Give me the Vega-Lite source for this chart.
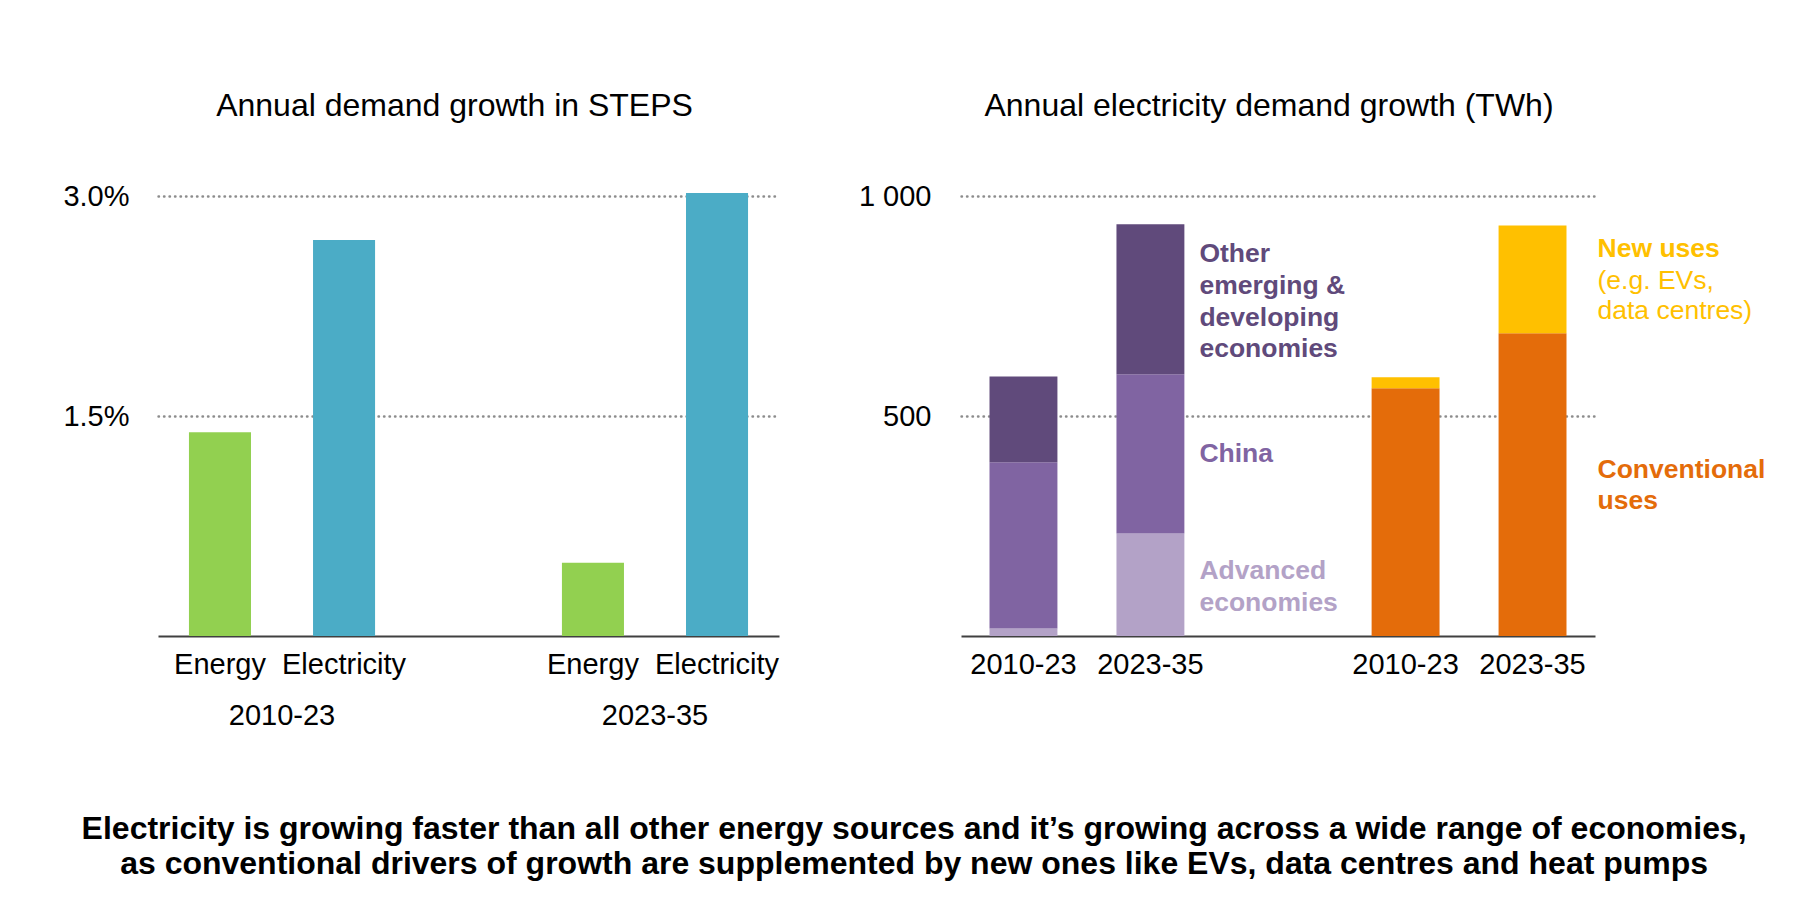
{
  "$schema": "https://vega.github.io/schema/vega-lite/v6.json",
  "background": "white",
  "padding": {"left": 62, "top": 90, "right": 10, "bottom": 10},
  "config": {
    "font": "Liberation Sans",
    "view": {"stroke": null},
    "axis": {
      "labelColor": "#000000",
      "labelFontSize": 29,
      "labelFont": "Liberation Sans",
      "ticks": false,
      "tickSize": 0,
      "gridColor": "#8c8c8c",
      "gridDash": [0.5, 5],
      "gridWidth": 2.4,
      "gridCap": "round",
      "domainColor": "#404040",
      "domainWidth": 2
    },
    "title": {"font": "Liberation Sans", "fontSize": 32, "fontWeight": "normal", "color": "#000000"}
  },
  "title": {
    "text": [
      "Electricity is growing faster than all other energy sources and it’s growing across a wide range of economies,",
      "as conventional drivers of growth are supplemented by new ones like EVs, data centres and heat pumps"
    ],
    "orient": "bottom",
    "anchor": "middle",
    "fontSize": 32,
    "fontWeight": "bold",
    "lineHeight": 35,
    "offset": 84,
    "color": "#000000"
  },
  "datasets": {
    "steps": [
      {"period": "2010-23", "type": "Energy", "growth": 0.0139},
      {"period": "2010-23", "type": "Electricity", "growth": 0.027},
      {"period": "2023-35", "type": "Energy", "growth": 0.005},
      {"period": "2023-35", "type": "Electricity", "growth": 0.0302}
    ],
    "twh": [
      {"group": "Regional", "period": "2010-23", "category": "Advanced economies", "value": 17, "label": "Advanced\neconomies", "note": ""},
      {"group": "Regional", "period": "2010-23", "category": "China", "value": 378, "label": "China", "note": ""},
      {"group": "Regional", "period": "2010-23", "category": "Other emerging & developing economies", "value": 195, "label": "Other\nemerging &\ndeveloping\neconomies", "note": ""},
      {"group": "Regional", "period": "2023-35", "category": "Advanced economies", "value": 233, "label": "Advanced\neconomies", "note": ""},
      {"group": "Regional", "period": "2023-35", "category": "China", "value": 362, "label": "China", "note": ""},
      {"group": "Regional", "period": "2023-35", "category": "Other emerging & developing economies", "value": 341, "label": "Other\nemerging &\ndeveloping\neconomies", "note": ""},
      {"group": "Uses", "period": "2010-23", "category": "Conventional uses", "value": 563, "label": "Conventional\nuses", "note": ""},
      {"group": "Uses", "period": "2010-23", "category": "New uses", "value": 25, "label": "New uses", "note": "(e.g. EVs,\ndata centres)"},
      {"group": "Uses", "period": "2023-35", "category": "Conventional uses", "value": 688, "label": "Conventional\nuses", "note": ""},
      {"group": "Uses", "period": "2023-35", "category": "New uses", "value": 245, "label": "New uses", "note": "(e.g. EVs,\ndata centres)"}
    ]
  },
  "resolve": {"scale": {"x": "independent", "y": "independent", "xOffset": "independent", "color": "independent"}},
  "bounds": "flush",
  "spacing": 182,
  "hconcat": [
    {
      "width": 621,
      "height": 440,
      "data": {"name": "steps"},
      "title": {"text": "Annual demand growth in STEPS", "frame": "group", "offset": 59, "dx": -14},
      "encoding": {
        "x": {
          "field": "period", "type": "nominal", "sort": ["2010-23", "2023-35"],
          "scale": {"paddingInner": 0.501, "paddingOuter": 0.083},
          "axis": {"title": null, "labelAngle": 0, "labelPadding": 65, "grid": false, "domain": true}
        },
        "xOffset": {
          "field": "type", "type": "nominal", "sort": ["Energy", "Electricity"],
          "scale": {"paddingInner": 0.5, "paddingOuter": 0}
        }
      },
      "layer": [
        {
          "mark": {"type": "bar"},
          "encoding": {
            "y": {
              "field": "growth", "type": "quantitative",
              "scale": {"domain": [0, 0.03], "nice": false},
              "axis": {"title": null, "values": [0.015, 0.03], "format": ".1%", "grid": true, "domain": false, "labelPadding": 29}
            },
            "color": {
              "field": "type", "type": "nominal",
              "scale": {"domain": ["Energy", "Electricity"], "range": ["#92D050", "#4BACC6"]},
              "legend": null
            }
          }
        },
        {
          "mark": {"type": "text", "baseline": "alphabetic", "dy": 38, "fontSize": 29, "color": "#000000"},
          "encoding": {
            "y": {"datum": 0, "type": "quantitative"},
            "text": {"field": "type"}
          }
        }
      ]
    },
    {
      "width": 634,
      "height": 440,
      "data": {"name": "twh"},
      "title": {"text": "Annual electricity demand growth (TWh)", "frame": "group", "offset": 59, "dx": -9},
      "encoding": {
        "x": {
          "field": "group", "type": "nominal", "sort": ["Regional", "Uses"],
          "scale": {"paddingInner": 0.49, "paddingOuter": 0.0746},
          "axis": {"title": null, "labels": false, "grid": false, "domain": true}
        },
        "xOffset": {
          "field": "period", "type": "nominal", "sort": ["2010-23", "2023-35"],
          "scale": {"paddingInner": 0.465, "paddingOuter": 0}
        }
      },
      "layer": [
        {
          "mark": {"type": "bar"},
          "encoding": {
            "y": {
              "field": "value", "type": "quantitative", "stack": "zero",
              "scale": {"domain": [0, 1000], "nice": false},
              "axis": {"title": null, "values": [500, 1000], "labelExpr": "replace(format(datum.value, ',.0f'), ',', ' ')", "grid": true, "domain": false, "labelPadding": 30}
            },
            "order": {"field": "category", "type": "ordinal", "sort": "ascending"},
            "color": {
              "field": "category", "type": "nominal",
              "scale": {
                "domain": ["Advanced economies", "China", "Other emerging & developing economies", "Conventional uses", "New uses"],
                "range": ["#B3A2C7", "#8064A2", "#604A7B", "#E46C0A", "#FFC000"]
              },
              "legend": null
            }
          }
        },
        {
          "transform": [{"aggregate": [{"op": "sum", "field": "value", "as": "total"}], "groupby": ["group", "period"]}],
          "mark": {"type": "text", "baseline": "alphabetic", "dy": 38, "fontSize": 29, "color": "#000000"},
          "encoding": {
            "y": {"datum": 0, "type": "quantitative"},
            "text": {"field": "period"}
          }
        },
        {
          "transform": [{"filter": "datum.group === 'Regional' && datum.period === '2023-35'"}],
          "mark": {"type": "text", "align": "left", "baseline": "middle", "dx": 49, "dy": -45, "fontSize": 26.5, "fontWeight": "bold", "lineBreak": "\n", "lineHeight": 31.7},
          "encoding": {
            "y": {"field": "value", "type": "quantitative", "stack": "zero", "bandPosition": 0.5},
            "order": {"field": "category", "type": "ordinal", "sort": "ascending"},
            "text": {"condition": {"test": "datum.category === 'Other emerging & developing economies'", "field": "label"}, "value": ""},
            "color": {"field": "category", "type": "nominal", "legend": null}
          }
        },
        {
          "transform": [{"filter": "datum.group === 'Regional' && datum.period === '2023-35'"}],
          "mark": {"type": "text", "align": "left", "baseline": "middle", "dx": 49, "dy": 0, "fontSize": 26.5, "fontWeight": "bold", "lineBreak": "\n", "lineHeight": 31.7},
          "encoding": {
            "y": {"field": "value", "type": "quantitative", "stack": "zero", "bandPosition": 0.5},
            "order": {"field": "category", "type": "ordinal", "sort": "ascending"},
            "text": {"condition": {"test": "datum.category === 'China'", "field": "label"}, "value": ""},
            "color": {"field": "category", "type": "nominal", "legend": null}
          }
        },
        {
          "transform": [{"filter": "datum.group === 'Regional' && datum.period === '2023-35'"}],
          "mark": {"type": "text", "align": "left", "baseline": "middle", "dx": 49, "dy": -13.5, "fontSize": 26.5, "fontWeight": "bold", "lineBreak": "\n", "lineHeight": 31.7},
          "encoding": {
            "y": {"field": "value", "type": "quantitative", "stack": "zero", "bandPosition": 0.5},
            "order": {"field": "category", "type": "ordinal", "sort": "ascending"},
            "text": {"condition": {"test": "datum.category === 'Advanced economies'", "field": "label"}, "value": ""},
            "color": {"field": "category", "type": "nominal", "legend": null}
          }
        },
        {
          "transform": [{"filter": "datum.group === 'Uses' && datum.period === '2023-35'"}],
          "mark": {"type": "text", "align": "left", "baseline": "middle", "dx": 65, "dy": -14.3, "fontSize": 26.5, "fontWeight": "bold", "lineBreak": "\n", "lineHeight": 31},
          "encoding": {
            "y": {"field": "value", "type": "quantitative", "stack": "zero", "bandPosition": 0.5},
            "order": {"field": "category", "type": "ordinal", "sort": "ascending"},
            "text": {"condition": {"test": "datum.category === 'Conventional uses'", "field": "label"}, "value": ""},
            "color": {"field": "category", "type": "nominal", "legend": null}
          }
        },
        {
          "transform": [{"filter": "datum.group === 'Uses' && datum.period === '2023-35'"}],
          "mark": {"type": "text", "align": "left", "baseline": "middle", "dx": 65, "dy": -30, "fontSize": 26.5, "fontWeight": "bold", "lineBreak": "\n", "lineHeight": 31},
          "encoding": {
            "y": {"field": "value", "type": "quantitative", "stack": "zero", "bandPosition": 0.5},
            "order": {"field": "category", "type": "ordinal", "sort": "ascending"},
            "text": {"condition": {"test": "datum.category === 'New uses'", "field": "label"}, "value": ""},
            "color": {"field": "category", "type": "nominal", "legend": null}
          }
        },
        {
          "transform": [{"filter": "datum.group === 'Uses' && datum.period === '2023-35'"}],
          "mark": {"type": "text", "align": "left", "baseline": "middle", "dx": 65, "dy": 2, "fontSize": 26.5, "fontWeight": "normal", "lineBreak": "\n", "lineHeight": 30},
          "encoding": {
            "y": {"field": "value", "type": "quantitative", "stack": "zero", "bandPosition": 0.5},
            "order": {"field": "category", "type": "ordinal", "sort": "ascending"},
            "text": {"field": "note"},
            "color": {"field": "category", "type": "nominal", "legend": null}
          }
        }
      ]
    }
  ]
}
